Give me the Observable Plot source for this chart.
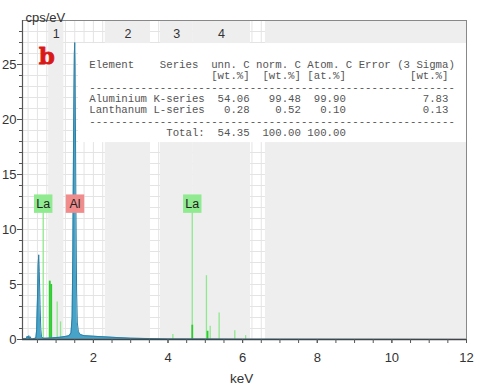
<!DOCTYPE html>
<html><head><meta charset="utf-8">
<script src="https://cdn.jsdelivr.net/npm/d3@7"></script>
<script src="https://cdn.jsdelivr.net/npm/@observablehq/plot@0.6"></script>
<style>
html,body{margin:0;padding:0;background:#fff;}
#chart svg{display:block;}
</style></head><body><div id="chart"></div>
<script>
// EDS spectrum (blue filled trace)
const spectrumKeV = [0.10,0.16,0.20,0.23,0.25,0.27,0.29,0.31,0.33,0.36,0.42,0.46,0.48,0.50,0.52,0.535,0.55,0.57,0.59,0.61,0.65,0.75,0.90,1.10,1.25,1.35,1.40,1.43,1.45,1.47,1.49,1.50,1.51,1.53,1.55,1.57,1.60,1.65,1.75,2.00,2.50,3.00,3.50,4.00,5.00,6.00,8.00,12.00];
const spectrumCps = [0.05,0.10,0.08,0.30,0.10,0.35,0.08,0.25,0.06,0.05,0.08,0.15,0.90,3.60,6.80,7.70,6.20,3.20,1.00,0.25,0.12,0.12,0.15,0.20,0.28,0.35,0.60,2.00,8.00,19.0,26.0,27.0,25.0,13.0,4.50,1.50,0.70,0.45,0.35,0.30,0.20,0.12,0.08,0.05,0.04,0.03,0.02,0.01];

// La marker lines (light green)
const laLineKeV = [0.655,0.83,0.87,1.03,1.12,4.13,4.65,5.03,5.13,5.37,5.79,6.08];
const laLineCps = [12.0,5.3,5.0,3.4,1.6,0.45,12.0,5.8,1.2,2.4,0.8,0.35];
// La marker lines (strong green)
const laStrongKeV = [0.83,0.87,4.65,5.06];
const laStrongCps = [5.3,5.0,1.3,0.75];

// element labels
const peakLabels = ["La","Al","La"];
const peakLabelKeV = [0.655,1.507,4.65];
const peakLabelCps = [12.35,12.35,12.35];

// shaded regions
const bandNames = ["1","2","3","4",""];
const bandStart = [0.80,2.32,3.80,4.66,6.61];
const bandEnd   = [1.21,3.53,4.66,6.21,12.0];

// quantification table
const tableLines = [
  "Element    Series  unn. C norm. C Atom. C Error (3 Sigma)",
  "                   [wt.%]  [wt.%] [at.%]          [wt.%]",
  "---------------------------------------------------------",
  "Aluminium K-series  54.06   99.48  99.90            7.83",
  "Lanthanum L-series   0.28    0.52   0.10            0.13",
  "---------------------------------------------------------",
  "            Total:  54.35  100.00 100.00"
];

const yTickLabels = [0,5,10,15,20,25];
const xTickLabels = [2,4,6,8,10,12];
const yMinorTicks = [0,1,2,3,4,5,6,7,8,9,10,11,12,13,14,15,16,17,18,19,20,21,22,23,24,25,26,27,28];
const xMinorTicks = [0.5,1,1.5,2,2.5,3,3.5,4,4.5,5,5.5,6,6.5,7,7.5,8,8.5,9,9.5,10,10.5,11,11.5,12];

// layout anchors (data units)
const xDomain = [0.1, 12];
const yDomain = [0, 29];
const tableBox = {x1: 1.6, x2: 12, y1: 17.9, y2: 26.9};
const tableAnchor = {k: 1.89, c: 21.92};
const panelLetter = {k: 0.75, c: 25.75, t: "b"};

const spectrum = spectrumKeV.map((k,i)=>({k, c: spectrumCps[i]}));
const laLines = laLineKeV.map((k,i)=>({k, c: laLineCps[i]}));
const laStrong = laStrongKeV.map((k,i)=>({k, c: laStrongCps[i]}));
const labels = peakLabels.map((t,i)=>({t, k: peakLabelKeV[i], c: peakLabelCps[i]}));
const bands = bandNames.map((n,i)=>({n, x1: bandStart[i], x2: bandEnd[i], xm:(bandStart[i]+bandEnd[i])/2}));
const gridX = d3.range(0.25, 12, 0.25);
const gridY = d3.range(1, 29, 1);
const tableText = tableLines.join("\n").replace(/ /g, "\u00a0");

const chart = Plot.plot({
  width: 480, height: 385,
  marginLeft: 22, marginRight: 14, marginTop: 20, marginBottom: 46,
  x: {domain: xDomain, axis: null},
  y: {domain: yDomain, axis: null},
  style: {fontFamily: "Liberation Sans", background: "#fff", color: "#333"},
  marks: [
    Plot.ruleY(gridY, {stroke: "#e4e4e4", strokeWidth: 1}),
    Plot.ruleX(gridX, {stroke: "#e4e4e4", strokeWidth: 1}),
    Plot.rect(bands, {x1: "x1", x2: "x2", y1: yDomain[0], y2: yDomain[1], fill: "#eeeeee"}),
    Plot.rect([tableBox], {x1: "x1", x2: "x2", y1: "y1", y2: "y2", fill: "#ffffff"}),
    Plot.text(bands, {x: "xm", text: "n", frameAnchor: "top", dy: 8.5, fontSize: 12.5, fill: "#333"}),
    Plot.ruleX(laLines, {x: "k", y1: 0, y2: "c", stroke: "#8ee88e", strokeWidth: 1.3}),
    Plot.ruleX(laStrong, {x: "k", y1: 0, y2: "c", stroke: "#2fcc2f", strokeWidth: 1.8}),
    Plot.areaY(spectrum, {x: "k", y: "c", fill: "#48a3c9", fillOpacity: 1}),
    Plot.line(spectrum, {x: "k", y: "c", stroke: "#2c7fa5", strokeWidth: 1}),
    Plot.dot(labels.filter(d=>d.t!=="Al"), {x: "k", y: "c", symbol: "square", r: 10.4, fill: "#90ea90", stroke: "none"}),
    Plot.dot(labels.filter(d=>d.t==="Al"), {x: "k", y: "c", symbol: "square", r: 10.4, fill: "#f08c8c", stroke: "none"}),
    Plot.text(labels, {x: "k", y: "c", text: "t", fontSize: 12.5, fill: "#222"}),
    Plot.text([{...tableAnchor, t: tableText}], {x: "k", y: "c", text: "t", textAnchor: "start", lineAnchor: "middle", lineHeight: 1.056, fontFamily: "Liberation Mono", fontSize: 10.7, fill: "#555"}),
    Plot.text([panelLetter], {x: "k", y: "c", text: "t", fontFamily: "DejaVu Serif", fontWeight: "bold", fontSize: 23, fill: "#d91818", stroke: "#d91818", strokeWidth: 0.8}),
    Plot.frame({stroke: "#888"}),
    Plot.ruleY([0], {stroke: "#444", strokeWidth: 1.5}),
    Plot.ruleX([xDomain[0]], {stroke: "#555", strokeWidth: 1.2}),
    Plot.axisY({ticks: yMinorTicks, tickSize: 3, tickFormat: () => "", label: null, stroke: "#555"}),
    Plot.axisY({ticks: yTickLabels, tickSize: 5, tickPadding: 1, fontSize: 13, label: null, stroke: "#555", fill: "#333"}),
    Plot.axisX({ticks: xMinorTicks, tickSize: 4, tickFormat: () => "", label: null, stroke: "#555"}),
    Plot.axisX({ticks: xTickLabels, tickSize: 4, tickPadding: 9, fontSize: 13, label: null, stroke: "#555", fill: "#333"}),
    Plot.text(["cps/eV"], {frameAnchor: "top-left", dx: 3, dy: -8, textAnchor: "start", fontSize: 13, fill: "#333"}),
    Plot.text(["keV"], {frameAnchor: "bottom", dx: -3, dy: 43, fontSize: 13.5, fill: "#333"})
  ]
});
document.getElementById("chart").appendChild(chart);
</script>
</body></html>
